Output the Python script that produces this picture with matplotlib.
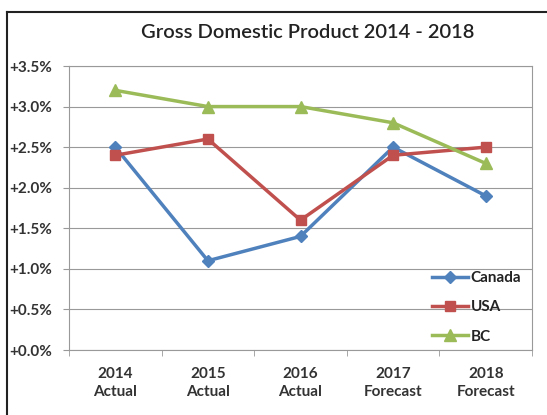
import matplotlib
matplotlib.use("Agg")
import matplotlib.pyplot as plt
from matplotlib.lines import Line2D
import numpy as np

categories = ["2014\nActual", "2015\nActual", "2016\nActual", "2017\nForecast", "2018\nForecast"]
canada = [2.5, 1.1, 1.4, 2.5, 1.9]
usa = [2.4, 2.6, 1.6, 2.4, 2.5]
bc = [3.2, 3.0, 3.0, 2.8, 2.3]
yticks = [0.0, 0.5, 1.0, 1.5, 2.0, 2.5, 3.0, 3.5]

plt.rcParams['font.family'] = ['Lato', 'DejaVu Sans']

fig = plt.figure(figsize=(5.47, 4.15), dpi=100)
ax = fig.add_axes([69/547, 1-350/415, (532-69)/547, (350-66)/415])

x = np.arange(len(categories))
ax.plot(x, canada, color='#4F81BD', marker='D', markersize=6, linewidth=2.5, label='Canada')
ax.plot(x, usa, color='#C0504D', marker='s', markersize=7, linewidth=2.5, label='USA')
ax.plot(x, bc, color='#9BBB59', marker='^', markersize=8, linewidth=2.5, label='BC')

ax.set_xlim(-0.5, len(categories) - 0.5)
ax.set_ylim(0, 3.5)
ax.set_yticks(yticks)
ax.set_yticklabels([f"+{v:.1f}%" for v in yticks], fontsize=11, fontweight='bold', color='#333333')
ax.set_xticks(x)
ax.set_xticklabels(categories, fontsize=11, fontweight='bold', color='#333333', linespacing=1.35)
ax.tick_params(axis='x', length=0, pad=12)
ax.set_xticks(np.arange(-0.5, len(categories), 1.0), minor=True)
ax.tick_params(axis='x', which='minor', length=4, color='#999999')
ax.tick_params(axis='y', length=4, color='#999999', pad=8)
ax.grid(axis='y', color='#999999', linewidth=0.8)
ax.set_axisbelow(True)
for s in ax.spines.values():
    s.set_color('#999999')
    s.set_linewidth(0.8)

ax.legend(loc='lower right', bbox_to_anchor=(1.0, -0.015), frameon=False,
          prop={'weight': 'bold', 'size': 11}, handlelength=2.4, labelspacing=1.0,
          handletextpad=0.15, borderaxespad=0.3)
for t in ax.get_legend().get_texts():
    t.set_color('#222222')

fig.text(308/547, 1-32/415, "Gross Domestic Product 2014 - 2018", ha='center', va='center',
         fontsize=14.5, fontweight='semibold', color='#222222')

# outer chart border (partially cropped)
fig.add_artist(Line2D([7/547, 7/547], [0, 1-12/415], transform=fig.transFigure, color='#222222', linewidth=1.5))
fig.add_artist(Line2D([7/547, 1], [1-12/415, 1-12/415], transform=fig.transFigure, color='#222222', linewidth=1.5))

fig.savefig("out.png", dpi=100)
